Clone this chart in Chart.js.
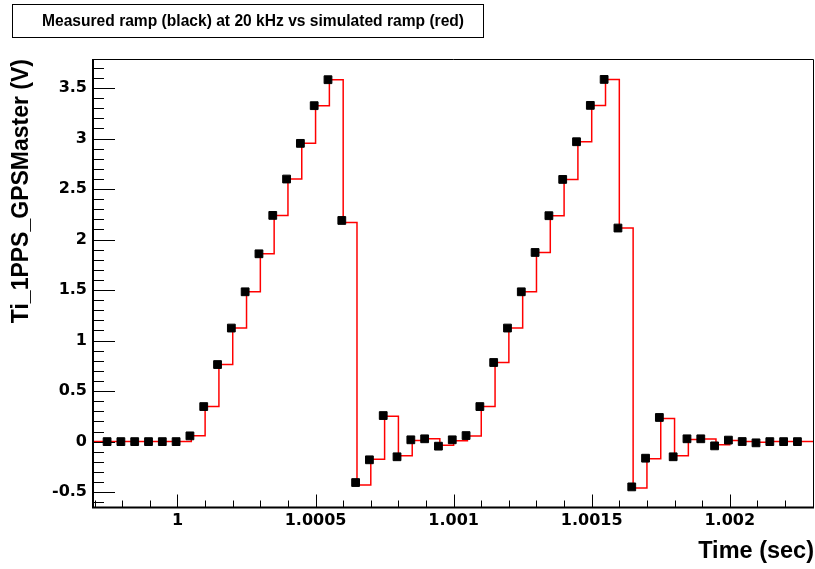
<!DOCTYPE html>
<html>
<head>
<meta charset="utf-8">
<script src="https://cdn.jsdelivr.net/npm/chart.js@4.4.0/dist/chart.umd.min.js"></script>
<style>
html, body { margin: 0; padding: 0; background: #fff; overflow: hidden; }
#wrap { width: 815px; height: 569px; position: relative; }
</style>
</head>
<body>
<div id="wrap"><canvas id="canvas"></canvas></div>
<script>
// sampling: measured ramp taken at 20 kHz
const samplePeriod = 1 / 20000;
const measuredStart = 0.999745;
const simulatedStart = 0.99965;

// measured ramp (black squares), volts
const measuredVolts = [
    0, 0, 0, 0, 0, 0, 0.057, 0.347, 0.763, 1.124,
    1.483, 1.859, 2.239, 2.599, 2.952, 3.325, 3.582, 2.189, -0.405, -0.180,
    0.258, -0.150, 0.018, 0.028, -0.045, 0.018, 0.060, 0.347, 0.783, 1.124,
    1.483, 1.872, 2.236, 2.595, 2.968, 3.328, 3.585, 2.114, -0.448, -0.164,
    0.239, -0.150, 0.028, 0.028, -0.042, 0.015, 0.001, -0.012, 0, 0,
    0
];

// simulated ramp (red steps), volts
const simulatedVolts = [
    0, 0,
    0, 0, 0, 0, 0, 0, 0.057, 0.347, 0.763, 1.124,
    1.483, 1.859, 2.239, 2.599, 2.952, 3.325, 3.582, 2.170, -0.430, -0.175,
    0.250, -0.140, 0.010, 0.028, -0.035, 0.008, 0.055, 0.347, 0.783, 1.124,
    1.483, 1.872, 2.236, 2.595, 2.968, 3.328, 3.585, 2.114, -0.460, -0.170,
    0.230, -0.140, 0.020, 0.025, -0.030, 0.010, 0.001, -0.005, 0, 0,
    0,
    0, 0, 0
];

const xTickValues = [1, 1.0005, 1.001, 1.0015, 1.002];
const xTickLabels = ['1', '1.0005', '1.001', '1.0015', '1.002'];
const yTickValues = [-0.5, 0, 0.5, 1, 1.5, 2, 2.5, 3, 3.5];
const yTickLabels = ['-0.5', '0', '0.5', '1', '1.5', '2', '2.5', '3', '3.5'];

const chartTitle = 'Measured ramp (black) at 20 kHz vs simulated ramp (red)';
const FONT = '"Liberation Sans", Arial, Helvetica, sans-serif';
const TICK_FONT = '"DejaVu Sans", sans-serif';

const measuredPoints = measuredVolts.map((v, i) => ({x: measuredStart + i * samplePeriod, y: v}));
const simulatedPoints = simulatedVolts.map((v, i) => ({x: simulatedStart + i * samplePeriod, y: v}));

// ROOT-like frame: inside ticks, thick left/bottom axis, title box
const rootFrame = {
    id: 'rootFrame',
    afterDatasetsDraw(chart) {
        const ctx = chart.ctx;
        const a = chart.chartArea;
        const x = chart.scales.x;
        const y = chart.scales.y;
        ctx.save();
        ctx.strokeStyle = '#000';
        ctx.lineWidth = 1;
        ctx.beginPath();
        // y ticks every 0.1, major every 0.5
        for (let i = -6; i <= 37; i++) {
            const py = Math.round(y.getPixelForValue(i / 10)) + 0.5;
            const len = (i % 5 === 0) ? 22 : 11;
            ctx.moveTo(a.left, py);
            ctx.lineTo(a.left + len, py);
        }
        // x ticks every 0.0001, major every 0.0005
        for (let i = -3; i <= 23; i++) {
            const px = Math.round(x.getPixelForValue(1 + i / 10000)) + 0.5;
            const len = (i % 5 === 0) ? 13 : 7;
            ctx.moveTo(px, a.bottom);
            ctx.lineTo(px, a.bottom - len);
        }
        ctx.stroke();

        // frame
        ctx.lineWidth = 1;
        ctx.beginPath();
        ctx.moveTo(a.left, a.top + 0.5);
        ctx.lineTo(a.right - 0.5, a.top + 0.5);
        ctx.lineTo(a.right - 0.5, a.bottom);
        ctx.stroke();
        ctx.lineWidth = 2;
        ctx.beginPath();
        ctx.moveTo(a.left, a.top);
        ctx.lineTo(a.left, a.bottom);
        ctx.lineTo(a.right, a.bottom);
        ctx.stroke();
        ctx.restore();
    },
    afterDraw(chart) {
        const ctx = chart.ctx;
        ctx.save();
        ctx.fillStyle = '#fff';
        ctx.fillRect(12, 4, 471, 34);
        ctx.strokeStyle = '#000';
        ctx.lineWidth = 1;
        ctx.strokeRect(12.5, 4.5, 471, 33);
        ctx.fillStyle = '#000';
        ctx.font = 'bold 15.6px ' + FONT;
        ctx.textBaseline = 'middle';
        ctx.textAlign = 'left';
        ctx.fillText(chartTitle, 42, 21.5);
        ctx.restore();
    }
};

new Chart(document.getElementById('canvas'), {
    type: 'line',
    data: {
        datasets: [{
            label: 'measured',
            data: measuredPoints,
            showLine: false,
            pointStyle: 'rect',
            pointRadius: 5.5,
            pointBorderWidth: 1,
            pointBackgroundColor: '#000',
            pointBorderColor: '#000'
        }, {
            label: 'simulated',
            data: simulatedPoints,
            stepped: true,
            borderColor: '#ff0000',
            borderWidth: 1.5,
            pointRadius: 0,
            fill: false
        }]
    },
    options: {
        responsive: true,
        maintainAspectRatio: false,
        animation: false,
        layout: {autoPadding: false, padding: {top: 59, right: 1, left: 0, bottom: 0}},
        plugins: {
            legend: {display: false},
            tooltip: {enabled: false},
            title: {display: false}
        },
        scales: {
            x: {
                type: 'linear',
                min: 0.999694,
                max: 1.002305,
                afterBuildTicks: s => { s.ticks = xTickValues.map(v => ({value: v})); },
                afterFit: s => { s.height = 61.5; s.paddingLeft = 0; s.paddingRight = 0; },
                grid: {display: false, drawTicks: false},
                border: {display: false},
                ticks: {
                    padding: 4,
                    maxRotation: 0,
                    autoSkip: false,
                    color: '#000',
                    font: {family: TICK_FONT, size: 16, weight: 'bold'},
                    callback: (v, i) => xTickLabels[i]
                },
                title: {
                    display: true,
                    text: 'Time (sec)',
                    align: 'end',
                    color: '#000',
                    font: {family: FONT, size: 23.5, weight: 'bold'},
                    padding: {top: 0, bottom: 3}
                }
            },
            y: {
                min: -0.652,
                max: 3.787,
                afterBuildTicks: s => { s.ticks = yTickValues.map(v => ({value: v})); },
                afterFit: s => { s.width = 93; s.paddingTop = 0; s.paddingBottom = 0; },
                grid: {display: false, drawTicks: false},
                border: {display: false},
                ticks: {
                    padding: 6,
                    autoSkip: false,
                    color: '#000',
                    font: {family: TICK_FONT, size: 16, weight: 'bold'},
                    callback: (v, i) => yTickLabels[i]
                },
                title: {
                    display: true,
                    text: 'Ti_1PPS_GPSMaster (V)',
                    align: 'end',
                    color: '#000',
                    font: {family: FONT, size: 23, weight: 'bold'},
                    padding: {top: 8, bottom: 0}
                }
            }
        }
    },
    plugins: [rootFrame]
});
</script>
</body>
</html>
